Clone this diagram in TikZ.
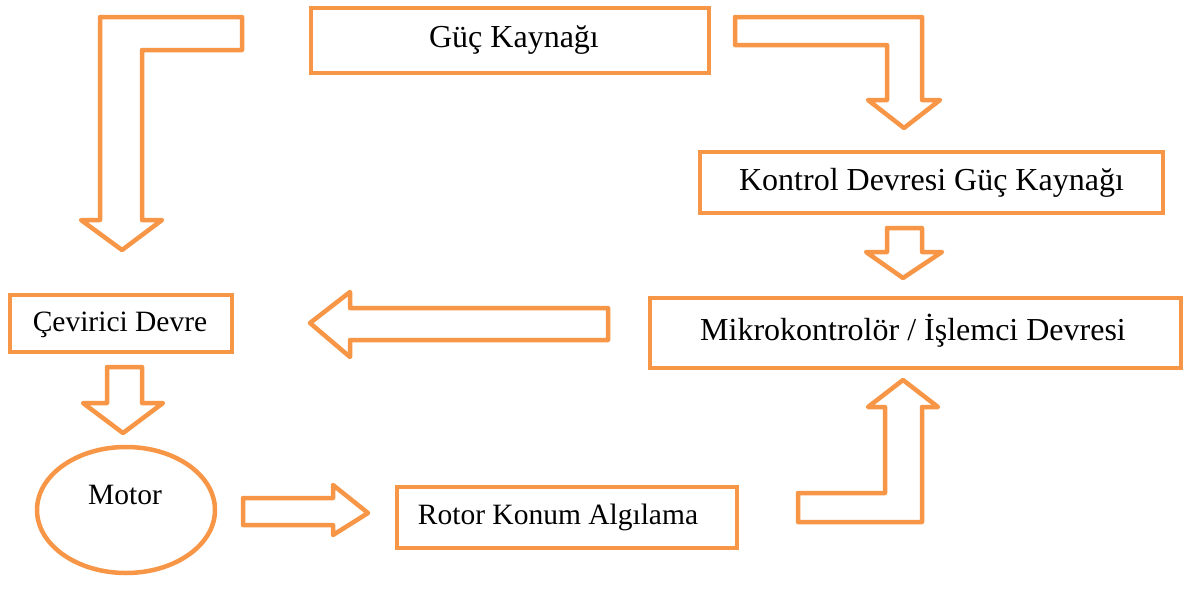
\documentclass[tikz,border=0pt]{standalone}
\usepackage{fontspec}
\setmainfont{Liberation Serif}
\usetikzlibrary{shapes.geometric}
\definecolor{acc}{HTML}{F79646}
\begin{document}
\begin{tikzpicture}[x=1pt,y=-1pt,
  box/.style={draw=acc,line width=4.5pt,rectangle,inner sep=0pt,font=\fontsize{32}{38}\selectfont},
  barrow/.style={draw=acc,line width=4.5pt,line join=round,fill=white},
  lbl/.style={font=\fontsize{32}{38}\selectfont,inner sep=0pt},
  slbl/.style={font=\fontsize{29.5}{35}\selectfont,inner sep=0pt}]
\useasboundingbox (0,0) rectangle (1187,589);
% boxes
\node[box,minimum width=398pt,minimum height=65pt] (guc) at (510,40.5) {};
\node[lbl] (guctxt) at (514,40) {Güç Kaynağı};
\node[box,minimum width=463pt,minimum height=61pt] (kontrol) at (931.5,182.5) {Kontrol Devresi Güç Kaynağı};
\node[box,minimum width=531pt,minimum height=70pt] (mikro) at (915.5,333) {};
\node[lbl] (mikrotxt) at (913,331) {Mikrokontrolör / İşlemci Devresi};
\node[box,minimum width=222pt,minimum height=57pt] (cev) at (121,323.5) {};
\node[slbl] (cevtxt) at (120,325) {Çevirici Devre};
\node[box,minimum width=340pt,minimum height=61pt] (rotor) at (567,517.5) {};
\node[slbl] (rotortxt) at (558,517) {Rotor Konum Algılama};
\node[draw=acc,line width=4.5pt,ellipse,minimum width=178pt,minimum height=126pt,inner sep=0pt] (motor) at (126,510) {};
\node[slbl] (motortxt) at (125,495) {Motor};
% block arrows
\draw[barrow] (100,17) -- (242,17) -- (242,50) -- (142,50) -- (142,220) -- (162,220) -- (122,250) -- (81,220) -- (100,220) -- cycle;
\draw[barrow] (735,17) -- (922,17) -- (922,100) -- (940,100) -- (904,128) -- (868,100) -- (887,100) -- (887,45) -- (735,45) -- cycle;
\draw[barrow] (887,228) -- (922,228) -- (922,252) -- (942,252) -- (903,278) -- (866,252) -- (887,252) -- cycle;
\draw[barrow] (310,323) -- (350,292) -- (350,308) -- (608,308) -- (608,340) -- (350,340) -- (350,357) -- cycle;
\draw[barrow] (107,367) -- (142,367) -- (142,403) -- (163,403) -- (123,433) -- (83,403) -- (107,403) -- cycle;
\draw[barrow] (243,498) -- (333,498) -- (333,485) -- (368,513) -- (333,535) -- (333,525) -- (243,525) -- cycle;
\draw[barrow] (903,380) -- (938,407) -- (922,407) -- (922,522) -- (798,522) -- (798,493) -- (885,493) -- (885,407) -- (868,407) -- cycle;
\end{tikzpicture}
\end{document}
